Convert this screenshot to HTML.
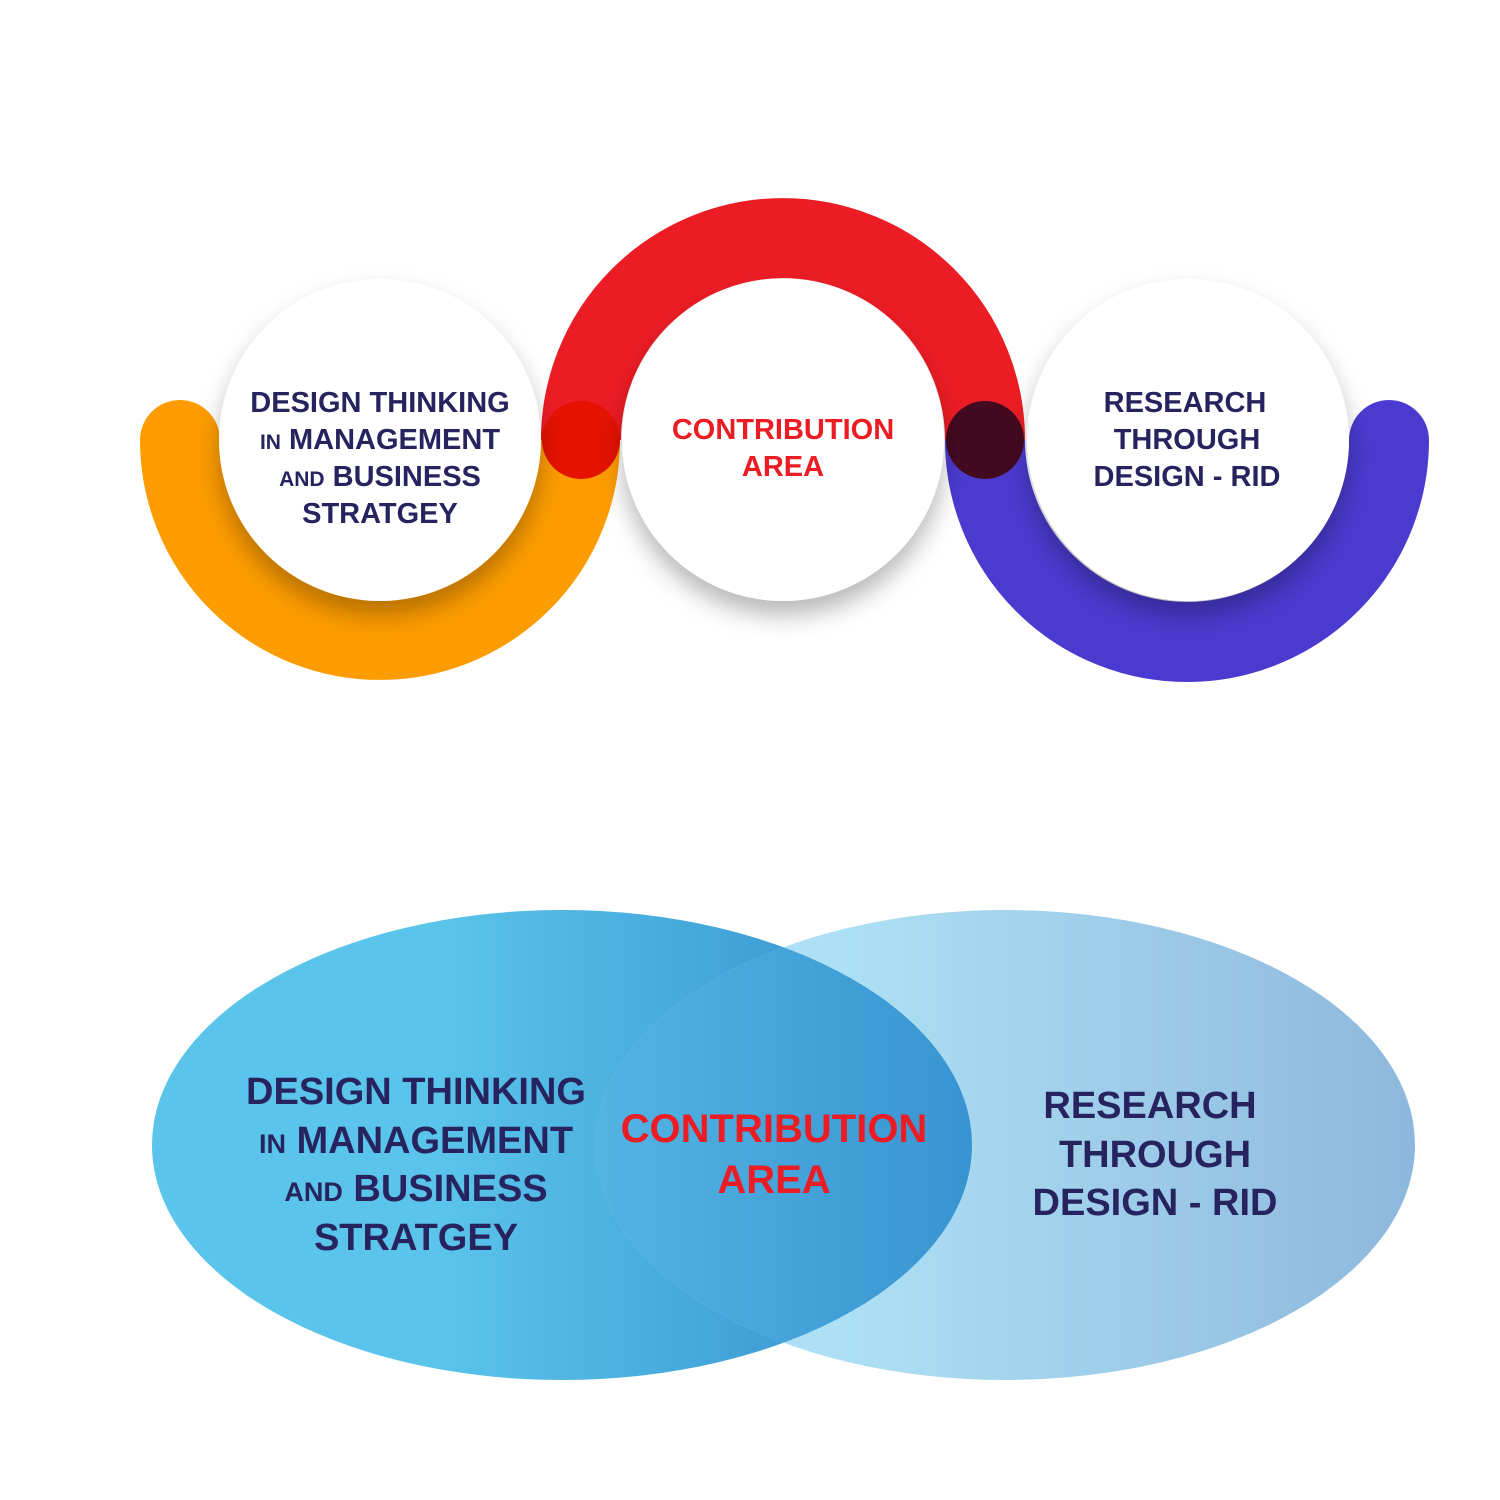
<!DOCTYPE html>
<html><head><meta charset="utf-8"><style>html,body{margin:0;padding:0;background:#fff}svg{display:block}</style></head><body>
<svg width="1500" height="1500" viewBox="0 0 1500 1500" xmlns="http://www.w3.org/2000/svg">
<defs>
<filter id="sh" x="-30%" y="-30%" width="160%" height="160%"><feDropShadow dx="0" dy="14" stdDeviation="12" flood-color="#000" flood-opacity="0.28"/></filter>
<linearGradient id="gl" x1="152" y1="0" x2="972" y2="0" gradientUnits="userSpaceOnUse"><stop offset="0.35" stop-color="#5ac4ea"/><stop offset="1" stop-color="#2f8acb"/></linearGradient>
<linearGradient id="gr" x1="597" y1="0" x2="1415" y2="0" gradientUnits="userSpaceOnUse"><stop offset="0.3" stop-color="#ade0f4"/><stop offset="1" stop-color="#8db8dd"/></linearGradient>
<linearGradient id="gm" x1="597" y1="0" x2="972" y2="0" gradientUnits="userSpaceOnUse"><stop offset="0" stop-color="#52b4e3"/><stop offset="1" stop-color="#3894d1"/></linearGradient>
<clipPath id="cl"><ellipse cx="562" cy="1145" rx="410" ry="235"/></clipPath>
</defs>
<path d="M180 440 A200 200 0 0 0 580 440" fill="none" stroke="#fd9c00" stroke-width="80" stroke-linecap="round"/>
<path d="M985 440 A202 202 0 0 0 1389 440" fill="none" stroke="#4b3acf" stroke-width="80" stroke-linecap="round"/>
<path d="M581 440 A202 202 0 0 1 985 440" fill="none" stroke="#ec1c24" stroke-width="80"/>
<circle cx="581" cy="440" r="39" fill="#e51200"/>
<circle cx="985" cy="440" r="39" fill="#430a1f"/>
<circle cx="380" cy="440" r="161" fill="#fff" filter="url(#sh)"/>
<circle cx="783" cy="440" r="161" fill="#fff" filter="url(#sh)"/>
<circle cx="1188" cy="440" r="161" fill="#fff" filter="url(#sh)"/>
<g font-family="Liberation Sans, sans-serif" font-weight="bold" text-anchor="middle" fill="#27235f" font-size="29">
<text x="380" y="412">DESIGN THINKING</text>
<text x="380" y="449"><tspan font-size="21">IN</tspan> MANAGEMENT</text>
<text x="380" y="486"><tspan font-size="21">AND</tspan> BUSINESS</text>
<text x="380" y="523">STRATGEY</text>
<text x="1185" y="412">RESEARCH</text>
<text x="1187" y="449">THROUGH</text>
<text x="1187" y="486">DESIGN - RID</text>
<text x="783" y="439" fill="#ec1c24">CONTRIBUTION</text>
<text x="783" y="476" fill="#ec1c24">AREA</text>
</g>
<ellipse cx="562" cy="1145" rx="410" ry="235" fill="url(#gl)"/>
<ellipse cx="1005" cy="1145" rx="410" ry="235" fill="url(#gr)"/>
<ellipse cx="1005" cy="1145" rx="410" ry="235" fill="url(#gm)" clip-path="url(#cl)"/>
<g font-family="Liberation Sans, sans-serif" font-weight="bold" text-anchor="middle" fill="#27235f" font-size="38">
<text x="416" y="1104">DESIGN THINKING</text>
<text x="416" y="1153"><tspan font-size="27">IN</tspan> MANAGEMENT</text>
<text x="416" y="1201"><tspan font-size="27">AND</tspan> BUSINESS</text>
<text x="416" y="1250">STRATGEY</text>
<text x="1150" y="1118">RESEARCH</text>
<text x="1155" y="1167">THROUGH</text>
<text x="1155" y="1215">DESIGN - RID</text>
<text x="774" y="1142" fill="#ec1c24" font-size="40">CONTRIBUTION</text>
<text x="774" y="1193" fill="#ec1c24" font-size="40">AREA</text>
</g>
</svg>
</body></html>
